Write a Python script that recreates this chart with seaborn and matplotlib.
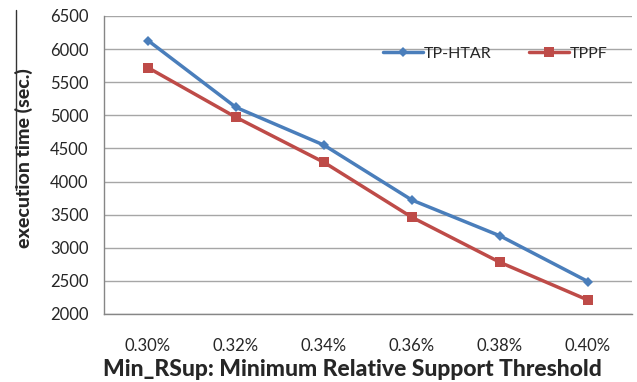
import matplotlib
matplotlib.use("Agg")
import matplotlib.pyplot as plt
import seaborn as sns
import pandas as pd
from matplotlib.lines import Line2D

categories = ["0.30%", "0.32%", "0.34%", "0.36%", "0.38%", "0.40%"]
tp_htar = [6130, 5120, 4550, 3720, 3180, 2490]
tppf = [5720, 4970, 4290, 3460, 2780, 2210]
series_names = ["TP-HTAR", "TPPF"]
y_ticks = [2000, 2500, 3000, 3500, 4000, 4500, 5000, 5500, 6000, 6500]

sns.set_theme(style="white")
plt.rcParams["font.family"] = ["Lato", "DejaVu Sans"]

rows = []
for i, c in enumerate(categories):
    rows.append({"idx": i, "value": tp_htar[i], "series": series_names[0]})
    rows.append({"idx": i, "value": tppf[i], "series": series_names[1]})
df = pd.DataFrame(rows)

fig = plt.figure(figsize=(6.37, 3.82), dpi=100)
L, R, T, B = 104, 632, 16, 314
ax = fig.add_axes([L/637, 1-B/382, (R-L)/637, (B-T)/382])

palette = {"TP-HTAR": "#4A7EBB", "TPPF": "#BE4B48"}
markers = {"TP-HTAR": "D", "TPPF": "s"}
sizes_ms = {"TP-HTAR": 5, "TPPF": 7.5}
sns.lineplot(data=df, x="idx", y="value", hue="series", style="series",
             markers=markers, dashes=False, palette=palette, ax=ax,
             linewidth=2.5, markersize=7, markeredgewidth=0, legend=False)
for line, name in zip(ax.get_lines(), series_names):
    line.set_markersize(sizes_ms[name])

ax.set_xlim(-0.5, len(categories) - 0.5)
ax.set_ylim(2000, 6500)
ax.set_yticks(y_ticks)
ax.set_yticklabels([str(v) for v in y_ticks], fontsize=12)
ax.set_xticks(range(len(categories)))
ax.set_xticklabels(categories, fontsize=12)
ax.set_xticks([i - 0.5 for i in range(len(categories) + 1)], minor=True)
ax.tick_params(axis="x", which="major", length=0, pad=17)
ax.tick_params(axis="x", which="minor", length=6, width=1, color="#868686", direction="out")
ax.tick_params(axis="y", which="major", length=6, width=1, color="#868686", direction="out", pad=5)

ax.grid(axis="y", color="#A6A6A6", linewidth=1)
ax.set_axisbelow(True)
for s in ["top", "right"]:
    ax.spines[s].set_visible(False)
for s in ["left", "bottom"]:
    ax.spines[s].set_color("#868686")
    ax.spines[s].set_linewidth(1)

ax.set_xlabel("Min_RSup: Minimum Relative Support Threshold", fontsize=16.5, fontweight="black")
ax.set_ylabel("execution time (sec.)", fontsize=14, fontweight="black")
ax.xaxis.set_label_coords((352 - L) / (R - L), -(359 - B) / (B - T))
ax.xaxis.label.set_va("top")
ax.yaxis.set_label_coords((33 - L) / (R - L), (B - 158) / (B - T))
ax.yaxis.label.set_va("bottom")

handles = [Line2D([], [], color=palette[n], marker=markers[n], markersize=sizes_ms[n],
                  markeredgewidth=0, linewidth=2.5) for n in series_names]
ax.legend(handles, series_names, loc="center left", bbox_to_anchor=(383/637, 1-54/382),
          bbox_transform=fig.transFigure, ncol=2, frameon=False, fontsize=11.5,
          handlelength=2.5, handletextpad=0.05, columnspacing=2.35, borderaxespad=0,
          borderpad=0)

fig.add_artist(Line2D([16/637, 16/637], [1-10/382, 1-190/382], transform=fig.transFigure,
                      color="#333333", linewidth=1))

fig.savefig("out.png", dpi=100)
